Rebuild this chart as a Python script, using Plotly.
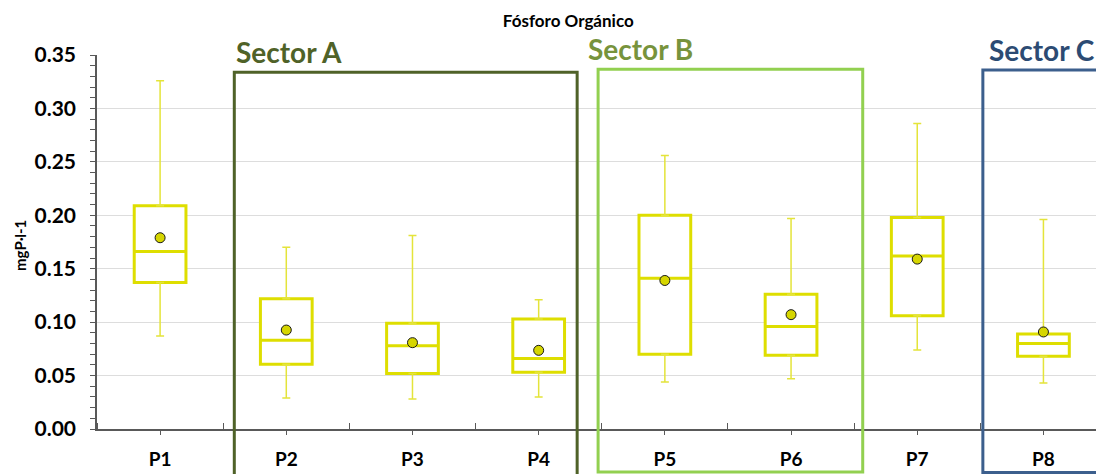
import plotly.graph_objects as go

categories = ["P1", "P2", "P3", "P4", "P5", "P6", "P7", "P8"]
whisker_low = [0.087, 0.029, 0.028, 0.030, 0.044, 0.047, 0.074, 0.043]
q1 = [0.137, 0.0605, 0.052, 0.053, 0.070, 0.069, 0.106, 0.068]
median = [0.166, 0.083, 0.078, 0.066, 0.141, 0.096, 0.162, 0.080]
q3 = [0.209, 0.122, 0.099, 0.103, 0.200, 0.126, 0.198, 0.089]
whisker_high = [0.326, 0.170, 0.181, 0.121, 0.256, 0.197, 0.286, 0.196]
mean = [0.179, 0.0926, 0.0808, 0.0736, 0.139, 0.107, 0.159, 0.0908]

sectors = ["Sector A", "Sector B", "Sector C"]
y_ticks = [0.00, 0.05, 0.10, 0.15, 0.20, 0.25, 0.30, 0.35]

FONT = "Lato"
BOX_COLOR = "#DEDE00"
WHISKER_COLOR = "#E4E43A"

xpos = list(range(len(categories)))

fig = go.Figure()

# Whiskers (thin lines with small caps)
fig.add_trace(go.Scatter(
    x=xpos, y=q3, mode="markers", marker=dict(size=0.1, opacity=0),
    error_y=dict(type="data", symmetric=False,
                 array=[h - t for h, t in zip(whisker_high, q3)],
                 arrayminus=[0] * len(q3),
                 color=WHISKER_COLOR, thickness=1.5, width=4),
    hoverinfo="skip", showlegend=False))
fig.add_trace(go.Scatter(
    x=xpos, y=q1, mode="markers", marker=dict(size=0.1, opacity=0),
    error_y=dict(type="data", symmetric=False,
                 array=[0] * len(q1),
                 arrayminus=[b - l for b, l in zip(q1, whisker_low)],
                 color=WHISKER_COLOR, thickness=1.5, width=4),
    hoverinfo="skip", showlegend=False))

# Boxes (no whiskers: fences at quartiles)
fig.add_trace(go.Box(
    x=xpos, q1=q1, median=median, q3=q3,
    lowerfence=q1, upperfence=q3,
    fillcolor="rgba(255,255,255,1)",
    line=dict(color=BOX_COLOR, width=3),
    width=0.41, whiskerwidth=0,
    boxpoints=False, showlegend=False))

# Means
fig.add_trace(go.Scatter(
    x=xpos, y=mean, mode="markers",
    marker=dict(size=10, color="#D6D600", line=dict(color="#1a1a1a", width=1)),
    showlegend=False))

# Sector frames (decoration)
sector_boxes = [
    dict(x0=0.588, x1=3.305, y0=-0.20, y1=0.954, color="#4F6228", tcolor="#4F6228", tx=0.585),
    dict(x0=3.471, x1=5.568, y0=-0.115, y1=0.962, color="#92D050", tcolor="#77933C", tx=3.375),
    dict(x0=6.52, x1=7.60, y0=-0.116, y1=0.96, color="#3C5F8D", tcolor="#2C4B73", tx=6.55),
]
shapes = []
annotations = []
for name, s in zip(sectors, sector_boxes):
    shapes.append(dict(type="rect", xref="x", yref="paper",
                       x0=s["x0"], x1=s["x1"], y0=s["y0"], y1=s["y1"],
                       line=dict(color=s["color"], width=3), fillcolor="rgba(0,0,0,0)",
                       layer="above"))
    annotations.append(dict(text=f"<b>{name}</b>", xref="x", yref="paper",
                            x=s["tx"], y=s["y1"] + 0.003, xanchor="left", yanchor="bottom",
                            showarrow=False,
                            font=dict(family=FONT, size=28, color=s["tcolor"])))

annotations.append(dict(text="<b>mgP·l-1</b>", xref="paper", yref="paper",
                        x=-0.0765, y=0.492, xanchor="center", yanchor="middle",
                        textangle=-90, showarrow=False,
                        font=dict(family=FONT, size=15, color="black")))

# Page body has an 8px default margin, so figure is offset by (8, 8)
fig.update_layout(
    width=1096, height=466,
    margin=dict(l=89, r=0, t=47, b=45),
    paper_bgcolor="white", plot_bgcolor="white",
    title=dict(text="<b>Fósforo Orgánico</b>", x=0.468, xref="paper", xanchor="center",
               y=0.973, yanchor="middle",
               font=dict(family=FONT, size=17, color="black")),
    shapes=shapes, annotations=annotations,
    font=dict(family=FONT, color="black"),
)

fig.update_xaxes(
    range=[-0.5, 7.48],
    tickmode="array", tickvals=xpos, ticktext=[f"<b>{c}</b>" for c in categories],
    ticks="outside", ticklen=4, tickcolor="#595959",
    showline=True, linecolor="#595959", linewidth=1.5,
    showgrid=False, zeroline=False,
    tickfont=dict(family=FONT, size=19, color="black"),
    ticklabelstandoff=8,
    minor=dict(tick0=0.5, dtick=1, ticks="inside", ticklen=6, tickcolor="#595959", showgrid=False),
)
fig.update_yaxes(
    range=[0, 0.35],
    tickmode="array", tickvals=y_ticks, ticktext=[f"<b>{v:.2f}</b>" for v in y_ticks],
    ticks="outside", ticklen=5, tickcolor="#595959",
    showline=True, linecolor="#595959", linewidth=1.5,
    showgrid=True, gridcolor="#DDDDDD", gridwidth=1,
    zeroline=False,
    tickfont=dict(family=FONT, size=21, color="black"),
    ticklabelstandoff=10,
    minor=dict(dtick=0.01, ticks="outside", ticklen=5, tickcolor="#595959", showgrid=False),
)

fig.write_html("out.html")
